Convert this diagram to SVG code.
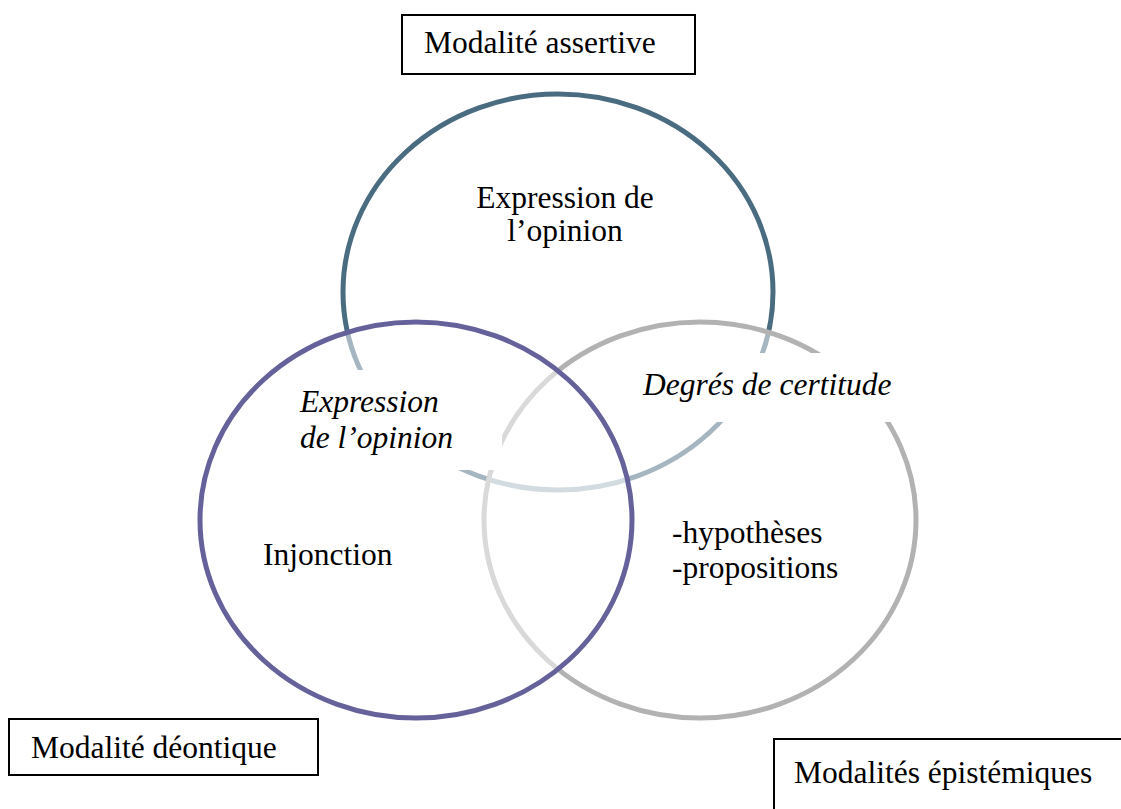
<svg xmlns="http://www.w3.org/2000/svg" width="1121" height="809" viewBox="0 0 1121 809">
<style>
.circ{fill:#ffffff;fill-opacity:0.5;stroke-width:5}
.t{font-family:"Liberation Serif","Times New Roman",serif;font-size:31.5px;fill:#000}
.i{font-style:italic}
.lbl{fill:#fff;stroke:#000;stroke-width:2}
.mask{fill:#fff;stroke:none}
</style>
<rect width="1121" height="809" fill="#fff"/>
<g id="circle-assertive">
<ellipse class="circ" cx="558" cy="292" rx="215" ry="198" stroke="#4a6c80"/>
</g>
<g id="circle-epistemique">
<ellipse class="circ" cx="700" cy="520" rx="216" ry="198" stroke="#b2b2b2"/>
</g>
<g id="circle-deontique">
<ellipse class="circ" cx="416" cy="520" rx="216" ry="198" stroke="#65629b"/>
</g>
<g id="connectors"></g>
<g id="text-expression-top">
<text class="t" x="565" y="208" text-anchor="middle">Expression de</text>
<text class="t" x="565" y="241" text-anchor="middle">l’opinion</text>
</g>
<g id="text-expression-italic">
<rect class="mask" x="290" y="370" width="212" height="100"/>
<text class="t i" x="300" y="412">Expression</text>
<text class="t i" x="300" y="448">de l’opinion</text>
</g>
<g id="text-degres">
<rect class="mask" x="630" y="353" width="275" height="69"/>
<text class="t i" x="643" y="395">Degrés de certitude</text>
</g>
<g id="text-injonction">
<text class="t" x="263" y="565">Injonction</text>
</g>
<g id="text-hypotheses">
<text class="t" x="672" y="543">-hypothèses</text>
<text class="t" x="672" y="578">-propositions</text>
</g>
<g id="label-assertive">
<rect class="lbl" x="402" y="15" width="293" height="59"/>
<text class="t" x="424" y="53">Modalité assertive</text>
</g>
<g id="label-deontique">
<rect class="lbl" x="9" y="719" width="309" height="56"/>
<text class="t" x="31" y="758">Modalité déontique</text>
</g>
<g id="label-epistemique">
<rect class="lbl" x="774" y="739" width="360" height="80"/>
<text class="t" x="794" y="783">Modalités épistémiques</text>
</g>
</svg>
